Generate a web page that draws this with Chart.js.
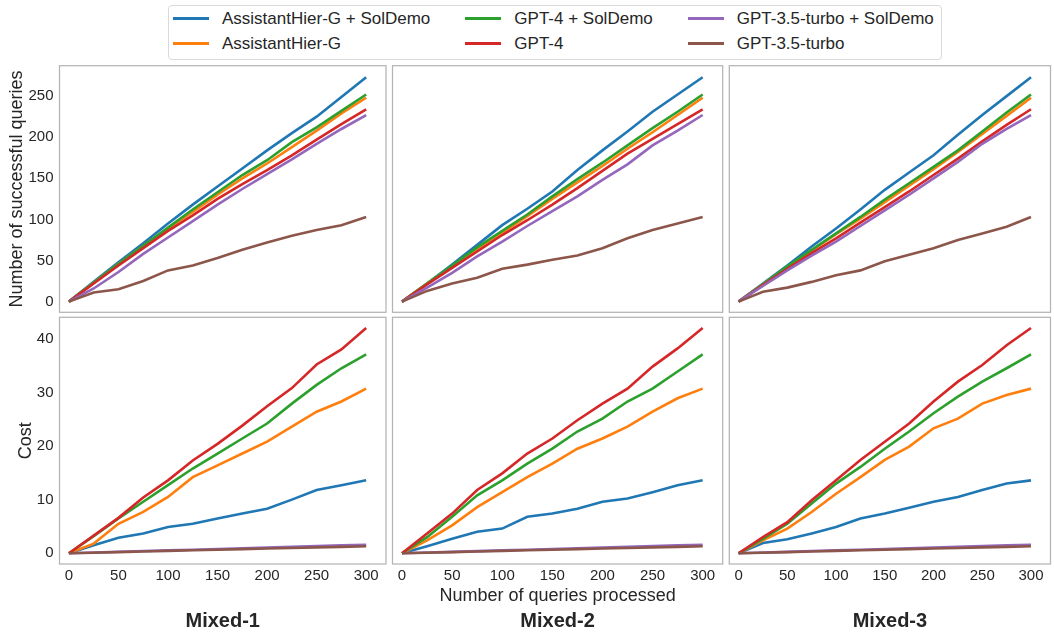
<!DOCTYPE html>
<html>
<head>
<meta charset="utf-8">
<script src="https://cdn.jsdelivr.net/npm/chart.js@4.4.1/dist/chart.umd.min.js"></script>
<style>
  html, body { margin: 0; padding: 0; background: #fff; }
  #wrap {
    position: relative; width: 1054px; height: 632px; overflow: hidden;
    font-family: "Liberation Sans", Arial, sans-serif; color: #262626;
  }
  #wrap canvas { position: absolute; left: 0; top: 0; }
  #legend {
    position: absolute; left: 168px; top: 5px;
    display: grid; grid-template-rows: 25px 25px; grid-auto-flow: column; column-gap: 35px;
    padding: 0 7px 2.5px 4px; border: 1px solid #d9d9d9; border-radius: 4px;
    font-size: 17px; background: #fff; z-index: 2;
  }
  .item { display: flex; align-items: center; white-space: nowrap; }
  .swatch { width: 36px; height: 2.6px; margin-right: 13px; }
</style>
</head>
<body>
<div id="wrap">
  <div id="legend"></div>
</div>
<script>
// ---- data ----
const QUERIES = [0, 25, 50, 75, 100, 125, 150, 175, 200, 225, 250, 275, 300];
const SERIES = [
  'AssistantHier-G + SolDemo',
  'AssistantHier-G',
  'GPT-4 + SolDemo',
  'GPT-4',
  'GPT-3.5-turbo + SolDemo',
  'GPT-3.5-turbo'
];
const COLUMN_TITLES = ['Mixed-1', 'Mixed-2', 'Mixed-3'];
const QUERY_TICKS = [0, 50, 100, 150, 200, 250, 300];
const SUCCESS_TICKS = [0, 50, 100, 150, 200, 250];
const COST_TICKS = [0, 10, 20, 30, 40];

// rows follow SERIES order
const mixed1Success = [
  [0, 24, 48, 71, 95, 118, 140, 162, 184, 205, 225, 249, 273],
  [0, 23, 46, 68, 89, 109, 130, 150, 168, 188, 208, 229, 248],
  [0, 23, 46, 68, 90, 112, 133, 154, 172, 194, 212, 232, 252],
  [0, 22, 44, 65, 86, 105, 125, 143, 160, 178, 197, 216, 234],
  [0, 16, 36, 58, 78, 98, 118, 137, 155, 173, 192, 210, 227],
  [0, 11, 15, 25, 38, 44, 53, 63, 72, 80, 87, 93, 103]
];
const mixed2Success = [
  [0, 22, 45, 69, 93, 113, 134, 160, 184, 207, 231, 252, 273],
  [0, 22, 43, 64, 84, 104, 125, 145, 165, 186, 206, 227, 248],
  [0, 22, 44, 66, 86, 106, 128, 149, 169, 190, 211, 231, 252],
  [0, 21, 41, 61, 81, 99, 118, 138, 159, 180, 198, 216, 234],
  [0, 17, 35, 55, 73, 92, 110, 128, 148, 167, 190, 208, 227],
  [0, 13, 22, 29, 40, 45, 51, 56, 65, 77, 87, 95, 103]
];
const mixed3Success = [
  [0, 22, 44, 67, 89, 112, 136, 157, 178, 203, 227, 250, 273],
  [0, 21, 42, 62, 82, 101, 121, 141, 161, 182, 204, 226, 248],
  [0, 21, 43, 63, 83, 103, 124, 144, 164, 184, 207, 230, 252],
  [0, 20, 40, 59, 77, 96, 115, 134, 154, 174, 195, 215, 234],
  [0, 19, 38, 56, 73, 92, 111, 130, 150, 170, 192, 210, 227],
  [0, 12, 17, 24, 32, 38, 49, 57, 65, 75, 83, 91, 103]
];
const mixed1Cost = [
  [0, 1.5, 2.9, 3.7, 4.9, 5.5, 6.5, 7.4, 8.3, 10.0, 11.8, 12.7, 13.6],
  [0, 1.8, 5.5, 7.7, 10.5, 14.2, 16.4, 18.6, 20.8, 23.6, 26.4, 28.3, 30.7],
  [0, 3.2, 6.5, 9.6, 12.7, 15.8, 18.6, 21.4, 24.2, 27.9, 31.4, 34.5, 37.1],
  [0, 3.3, 6.6, 10.4, 13.6, 17.3, 20.4, 23.8, 27.4, 30.8, 35.2, 38.0, 42.0],
  [0, 0.15, 0.28, 0.41, 0.54, 0.67, 0.8, 0.94, 1.07, 1.2, 1.34, 1.47, 1.6],
  [0, 0.11, 0.22, 0.33, 0.44, 0.55, 0.66, 0.77, 0.88, 0.99, 1.1, 1.2, 1.3]
];
const mixed2Cost = [
  [0, 1.3, 2.7, 4.0, 4.6, 6.8, 7.4, 8.3, 9.6, 10.2, 11.4, 12.7, 13.6],
  [0, 2.4, 5.2, 8.6, 11.4, 14.2, 16.7, 19.5, 21.4, 23.6, 26.4, 28.9, 30.7],
  [0, 3.0, 6.8, 10.8, 13.6, 16.7, 19.5, 22.7, 25.1, 28.3, 30.7, 33.9, 37.1],
  [0, 3.7, 7.4, 11.8, 14.9, 18.6, 21.4, 24.8, 27.9, 30.7, 34.8, 38.2, 42.0],
  [0, 0.14, 0.27, 0.4, 0.54, 0.67, 0.8, 0.94, 1.07, 1.21, 1.34, 1.47, 1.6],
  [0, 0.11, 0.22, 0.33, 0.44, 0.55, 0.66, 0.77, 0.88, 0.99, 1.1, 1.2, 1.3]
];
const mixed3Cost = [
  [0, 1.9, 2.6, 3.7, 4.9, 6.5, 7.4, 8.5, 9.6, 10.5, 11.8, 13.0, 13.6],
  [0, 2.4, 4.6, 7.7, 11.1, 14.2, 17.4, 19.9, 23.3, 25.1, 27.9, 29.5, 30.7],
  [0, 2.7, 5.5, 9.3, 13.0, 16.1, 19.5, 22.7, 26.1, 29.2, 32.0, 34.5, 37.1],
  [0, 3.0, 5.8, 9.9, 13.6, 17.4, 20.8, 24.2, 28.3, 32.0, 35.1, 38.8, 42.0],
  [0, 0.14, 0.27, 0.41, 0.54, 0.67, 0.8, 0.93, 1.07, 1.2, 1.33, 1.47, 1.6],
  [0, 0.11, 0.22, 0.33, 0.44, 0.55, 0.66, 0.77, 0.88, 0.99, 1.1, 1.2, 1.3]
];

// ---- style / layout ----
const COLORS = ['#1f77b4', '#ff7f0e', '#2ca02c', '#d62728', '#9467bd', '#8c564b'];
const TEXT_COLOR = '#262626';
const FRAME_COLOR = '#b4b4b4';
const FONT = '"Liberation Sans", Arial, sans-serif';

const PANEL_LEFT = [59.5, 392.5, 729.3];
const PANEL_RIGHT = [386, 722.7, 1050.5];
const ROW_TOP = [65.7, 317.3];
const ROW_BOTTOM = [312.3, 564];
const Y_AXIS_WIDTH = [52.8, 44.4];   // success row, cost row
const X_AXIS_HEIGHT = 42.8;
const COL_TITLE_HEIGHT = 25;         // 20px line + 5px pad
const X_RANGE = [-9.5, 320];
const Y_RANGE = [[-13, 287], [-2, 44]];

Chart.defaults.font.family = FONT;
Chart.defaults.color = TEXT_COLOR;

const framePlugin = {
  id: 'frame',
  beforeDatasetsDraw(chart) {
    const { ctx, chartArea: a } = chart;
    ctx.save();
    ctx.strokeStyle = FRAME_COLOR;
    ctx.lineWidth = 1.25;
    ctx.strokeRect(a.left, a.top, a.right - a.left, a.bottom - a.top);
    ctx.restore();
  }
};

function fixedTicks(list) {
  return scale => { scale.ticks = list.map(v => ({ value: v })); };
}

function makePanel(row, col, rows) {
  const wrap = document.getElementById('wrap');
  const canvas = document.createElement('canvas');
  canvas.width = 1054;
  canvas.height = 632;
  wrap.appendChild(canvas);

  const isCost = row === 1;
  const showY = col === 0;
  const yw = showY ? Y_AXIS_WIDTH[row] : 0;
  const below = isCost ? X_AXIS_HEIGHT + COL_TITLE_HEIGHT : 0;

  const datasets = rows.map((vals, i) => ({
    label: SERIES[i],
    data: QUERIES.map((q, k) => ({ x: q, y: vals[k] })),
    borderColor: COLORS[i],
    backgroundColor: COLORS[i],
    borderWidth: 2.6,
    pointRadius: 0,
    tension: 0,
    fill: false,
    order: rows.length - i   // later series on top, like matplotlib
  }));

  new Chart(canvas, {
    type: 'line',
    data: { datasets },
    plugins: [framePlugin],
    options: {
      responsive: false,
      animation: false,
      events: [],
      layout: {
        padding: {
          left: PANEL_LEFT[col] - yw,
          right: 1054 - PANEL_RIGHT[col],
          top: ROW_TOP[row],
          bottom: 632 - ROW_BOTTOM[row] - below
        }
      },
      plugins: {
        legend: { display: false },
        tooltip: { enabled: false },
        title: {
          display: isCost,
          text: COLUMN_TITLES[col],
          position: 'bottom',
          fullSize: false,
          color: TEXT_COLOR,
          font: { size: 20, weight: 'bold', lineHeight: 1 },
          padding: { top: 5, bottom: 0 }
        }
      },
      scales: {
        x: {
          type: 'linear',
          display: isCost,
          min: X_RANGE[0],
          max: X_RANGE[1],
          grid: { display: false, drawTicks: false },
          border: { display: false },
          afterBuildTicks: fixedTicks(QUERY_TICKS),
          afterFit: s => {
            if (!s.options.display) return;
            s.height = X_AXIS_HEIGHT; s.paddingLeft = 0; s.paddingRight = 0;
          },
          ticks: { font: { size: 15 }, color: TEXT_COLOR, padding: 3, maxRotation: 0, autoSkip: false },
          title: {
            display: isCost && col === 1,
            text: 'Number of queries processed',
            color: TEXT_COLOR,
            font: { size: 18, lineHeight: 1.2 },
            padding: 0
          }
        },
        y: {
          type: 'linear',
          display: showY,
          min: Y_RANGE[row][0],
          max: Y_RANGE[row][1],
          grid: { display: false, drawTicks: false },
          border: { display: false },
          afterBuildTicks: fixedTicks(isCost ? COST_TICKS : SUCCESS_TICKS),
          afterFit: s => {
            if (!s.options.display) return;
            s.width = yw; s.paddingTop = 0; s.paddingBottom = 0;
          },
          ticks: { font: { size: 15 }, color: TEXT_COLOR, padding: 6, autoSkip: false },
          title: {
            display: showY,
            text: isCost ? 'Cost' : 'Number of successful queries',
            color: TEXT_COLOR,
            font: { size: 18, lineHeight: 1.2 },
            padding: 0
          }
        }
      }
    }
  });
}

const SUCCESS = [mixed1Success, mixed2Success, mixed3Success];
const COST = [mixed1Cost, mixed2Cost, mixed3Cost];
for (let c = 0; c < 3; c++) {
  makePanel(0, c, SUCCESS[c]);
  makePanel(1, c, COST[c]);
}

// legend, column-major like the reference
const legendEl = document.getElementById('legend');
SERIES.forEach((name, i) => {
  const item = document.createElement('div');
  item.className = 'item';
  const sw = document.createElement('span');
  sw.className = 'swatch';
  sw.style.background = COLORS[i];
  const tx = document.createElement('span');
  tx.textContent = name;
  item.appendChild(sw);
  item.appendChild(tx);
  legendEl.appendChild(item);
});
</script>
</body>
</html>
